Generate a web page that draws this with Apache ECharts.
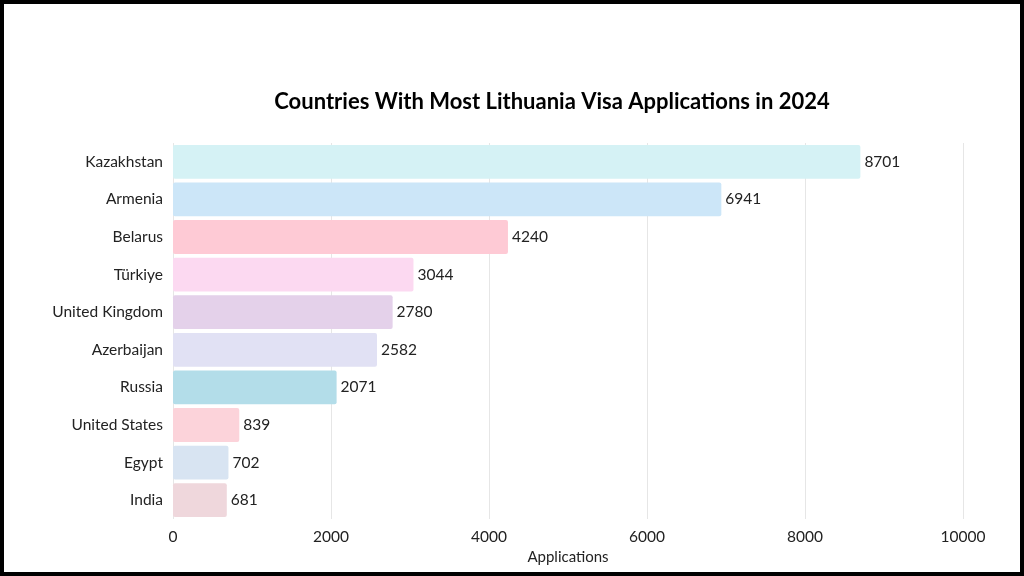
<!DOCTYPE html>
<html><head><meta charset="utf-8">
<script src="https://cdn.jsdelivr.net/npm/echarts@6/dist/echarts.min.js"></script>
<style>html,body{margin:0;padding:0;background:#000}#c{position:absolute;left:4px;top:4px;width:1016px;height:568px;background:#fff}</style>
</head><body><div id="c"></div>
<script>
const categories = ['Kazakhstan','Armenia','Belarus','Türkiye','United Kingdom','Azerbaijan','Russia','United States','Egypt','India'];
const values = [8701,6941,4240,3044,2780,2582,2071,839,702,681];
const colors = ['#d5f2f5','#cce6f8','#fecad5','#fcd9f1','#e4d1ea','#e1e1f4','#b3dde9','#fcd3da','#d8e4f2','#efd7dc'];
const ticks = [0,2000,4000,6000,8000,10000];
const chart = echarts.init(document.getElementById('c'));
chart.setOption({
  animation:false,
  title:{text:'Countries With Most Lithuania Visa Applications in 2024',left:543,top:82,textAlign:'center',
    textStyle:{fontFamily:'Lato',fontWeight:'bold',fontSize:22,color:'#000'}},
  grid:{left:169,right:57,top:139,bottom:53},
  xAxis:{type:'value',min:ticks[0],max:ticks[ticks.length-1],interval:2000,
    name:'Applications',nameLocation:'middle',nameGap:27,
    nameTextStyle:{fontFamily:'Lato',fontSize:15,color:'#222'},
    axisLabel:{fontFamily:'Lato',fontSize:15.5,color:'#222',margin:10,formatter:v=>String(v)},
    splitLine:{lineStyle:{color:'#e6e6e6'}},axisLine:{show:false},axisTick:{show:false}},
  yAxis:{type:'category',inverse:true,data:categories,
    axisLabel:{fontFamily:'Lato',fontSize:15.5,color:'#222',margin:10},
    axisLine:{show:false},axisTick:{show:false}},
  series:[{type:'bar',barCategoryGap:'10%',
    data:values.map((v,i)=>({value:v,itemStyle:{color:colors[i],borderRadius:2}})),
    label:{show:true,position:'right',distance:4,fontFamily:'Lato',fontSize:15.5,color:'#222'}}]
});
</script></body></html>
